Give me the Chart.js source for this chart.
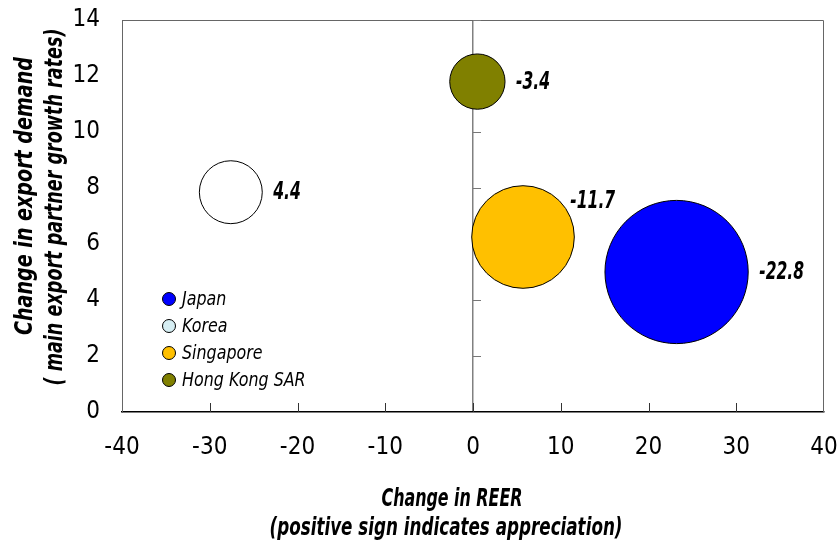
<!DOCTYPE html>
<html><head><meta charset="utf-8">
<script src="https://cdn.jsdelivr.net/npm/chart.js@4/dist/chart.umd.min.js"></script>
<style>html,body{margin:0;padding:0;background:#fff}#wrap{width:840px;height:546px}</style>
</head><body><div id="wrap"><canvas id="c" width="840" height="546"></canvas></div>
<script>
const countries = ["Japan", "Korea", "Singapore", "Hong Kong SAR"];
const reerChange = [23.2, -27.6, 5.7, 0.5];
const demandChange = [5.0, 7.85, 6.25, 11.8];
const bubbleValues = [-22.8, 4.4, -11.7, -3.4];
const xTicks = [-40, -30, -20, -10, 0, 10, 20, 30, 40];
const yTicks = [0, 2, 4, 6, 8, 10, 12, 14];
const fillColors = ["#0000FF", "#FFFFFF", "#FFC000", "#808000"];
const legendColors = ["#0000FF", "#D6EEF3", "#FFC000", "#808000"];
const xTitle = ["Change in REER", "(positive sign indicates appreciation)"];
const yTitle = ["Change in export demand", "( main export partner growth rates)"];

const FAM = '"DejaVu Sans Condensed", "DejaVu Sans", sans-serif';
const RSCALE = 15;

const datasets = countries.map((c, i) => ({
  label: c,
  data: [{ x: reerChange[i], y: demandChange[i], r: RSCALE * Math.sqrt(Math.abs(bubbleValues[i])) }],
  backgroundColor: fillColors[i],
  borderColor: "#000",
  borderWidth: 1,
  hoverRadius: 0
}));

const labelAngles = [0, 0, -Math.PI / 4, 0];

function squeezeText(ctx, text, x, y, sx, align) {
  ctx.save();
  ctx.translate(x, y);
  ctx.scale(sx, 1);
  ctx.textAlign = align;
  ctx.fillText(text, 0, 0);
  ctx.restore();
}
function fitText(ctx, text, x, y, targetW, rot) {
  const w = ctx.measureText(text).width;
  ctx.save();
  ctx.translate(x, y);
  if (rot) ctx.rotate(rot);
  ctx.scale(targetW / w, 1);
  ctx.textAlign = "center";
  ctx.fillText(text, 0, 0);
  ctx.restore();
}

const decor = {
  id: "decor",
  beforeDatasetsDraw(chart) {
    const { ctx, chartArea: a, scales } = chart;
    ctx.save();
    ctx.strokeStyle = "#666";
    ctx.lineWidth = 1;
    ctx.beginPath();
    ctx.moveTo(a.left + 0.5, a.top + 0.5);
    ctx.lineTo(a.right - 0.5, a.top + 0.5);
    ctx.lineTo(a.right - 0.5, a.bottom);
    ctx.stroke();
    ctx.strokeStyle = "#333";
    xTicks.forEach(v => {
      if (v === xTicks[0] || v === xTicks[xTicks.length - 1]) return;
      const px = Math.round(scales.x.getPixelForValue(v)) + 0.5;
      ctx.beginPath();
      ctx.moveTo(px, a.bottom);
      ctx.lineTo(px, a.bottom - 9);
      ctx.stroke();
    });
    const zx = Math.round(scales.x.getPixelForValue(0));
    ctx.strokeStyle = "#777";
    yTicks.forEach(v => {
      if (v === yTicks[0]) return;
      const py = Math.round(scales.y.getPixelForValue(v)) + 0.5;
      ctx.beginPath();
      ctx.moveTo(zx, py);
      ctx.lineTo(zx + 8, py);
      ctx.stroke();
    });
    ctx.restore();
  },
  afterDatasetsDraw(chart) {
    const { ctx } = chart;
    ctx.save();
    ctx.fillStyle = "#000";
    ctx.textBaseline = "middle";
    ctx.font = "italic bold 24px " + FAM;
    chart.data.datasets.forEach((ds, i) => {
      const el = chart.getDatasetMeta(i).data[0];
      const r = el.options.radius;
      const ang = labelAngles[i];
      const lx = el.x + r * Math.cos(ang) + 11;
      const ly = el.y + r * Math.sin(ang) + 1;
      squeezeText(ctx, bubbleValues[i].toFixed(1), lx, ly, 0.72, "left");
    });
    ctx.font = "italic 19px " + FAM;
    const lx0 = 169, ly0 = 299, step = 27;
    countries.forEach((c, i) => {
      const y = ly0 + i * step;
      ctx.beginPath();
      ctx.arc(lx0, y, 6.5, 0, Math.PI * 2);
      ctx.fillStyle = legendColors[i];
      ctx.fill();
      ctx.strokeStyle = "#000";
      ctx.lineWidth = 1;
      ctx.stroke();
      ctx.fillStyle = "#000";
      squeezeText(ctx, c, lx0 + 13, y + 1, 0.93, "left");
    });
    ctx.textBaseline = "alphabetic";
    ctx.font = "italic bold 24px " + FAM;
    fitText(ctx, xTitle[0], 452, 506, 141, 0);
    fitText(ctx, xTitle[1], 446, 535, 353, 0);
    fitText(ctx, yTitle[0], 32, 196, 278, -Math.PI / 2);
    fitText(ctx, yTitle[1], 62, 207, 357, -Math.PI / 2);
    ctx.restore();
  }
};

new Chart(document.getElementById("c"), {
  type: "bubble",
  data: { datasets },
  plugins: [decor],
  options: {
    responsive: false,
    animation: false,
    layout: { autoPadding: false, padding: { top: 20, right: 16, left: 0, bottom: 0 } },
    plugins: { legend: { display: false }, tooltip: { enabled: false } },
    scales: {
      x: {
        type: "linear",
        min: xTicks[0],
        max: xTicks[xTicks.length - 1],
        afterBuildTicks: s => { s.ticks = xTicks.map(v => ({ value: v })); },
        afterFit: s => { s.height = 134; s.paddingLeft = 0; s.paddingRight = 0; },
        ticks: { color: "#000", padding: 21, font: { family: FAM, size: 24 } },
        grid: {
          drawTicks: false,
          color: ctx => (ctx.tick && ctx.tick.value === 0) ? "#808080" : "rgba(0,0,0,0)",
          lineWidth: 1.5
        },
        border: { display: true, color: "#000", width: 1.5 }
      },
      y: {
        type: "linear",
        min: yTicks[0],
        max: yTicks[yTicks.length - 1],
        afterBuildTicks: s => { s.ticks = yTicks.map(v => ({ value: v })); },
        afterFit: s => { s.width = 122; s.paddingTop = 0; s.paddingBottom = 0; },
        ticks: { color: "#000", padding: 22, font: { family: FAM, size: 24 } },
        grid: { display: false, drawTicks: false },
        border: { display: true, color: "#666", width: 1 }
      }
    }
  }
});
</script>
</body></html>
